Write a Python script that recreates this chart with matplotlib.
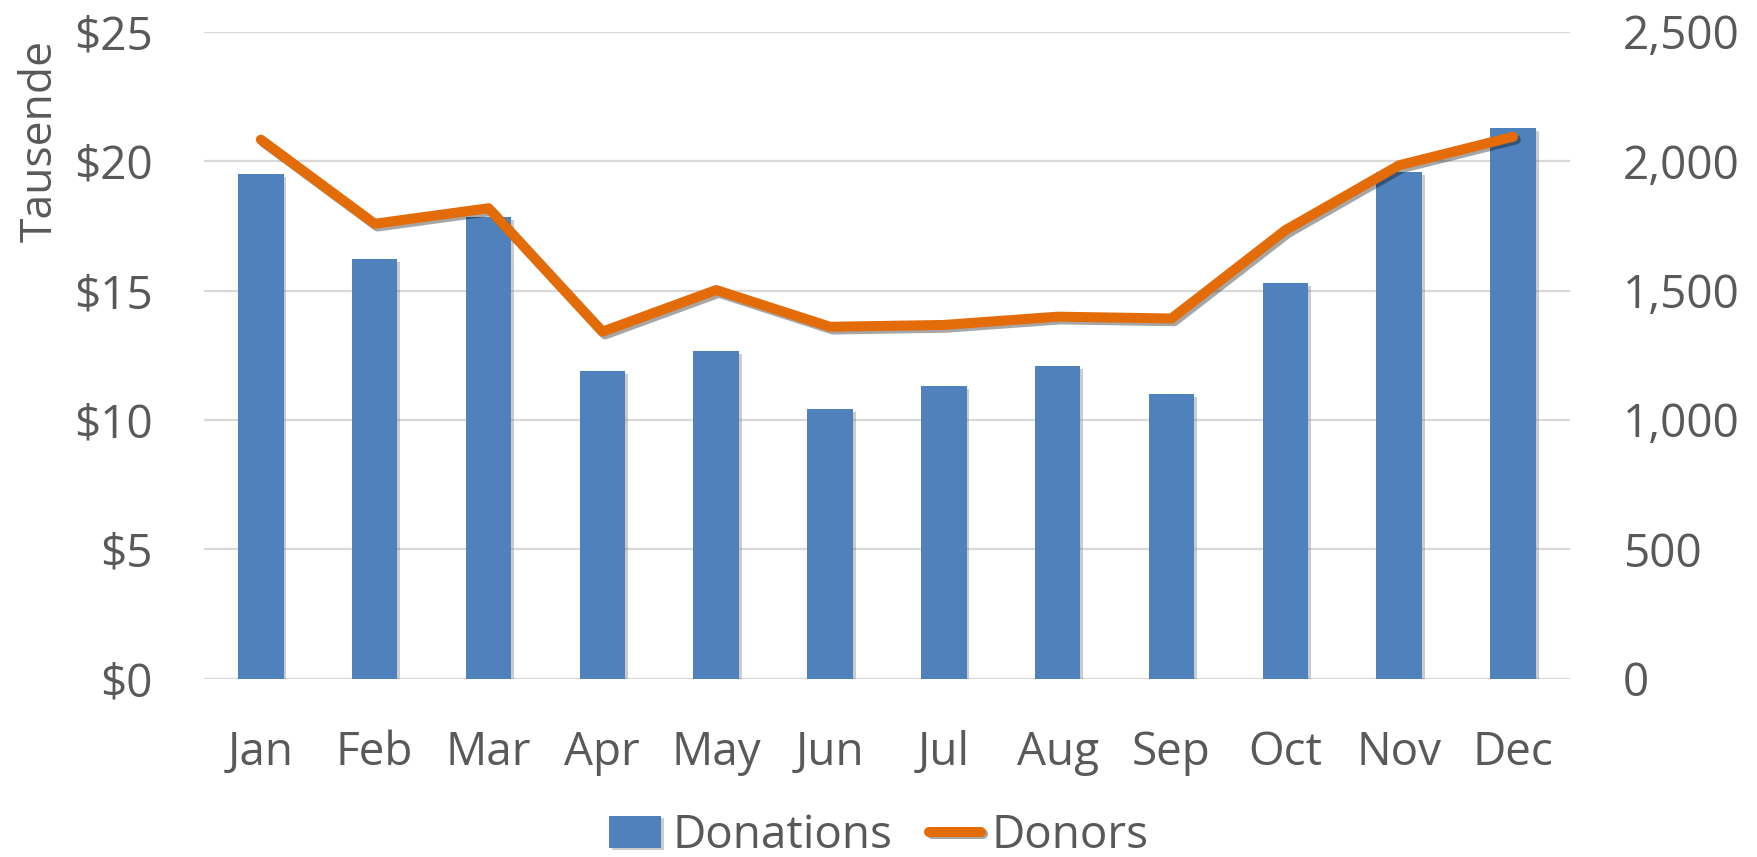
import numpy as np
import matplotlib.pyplot as plt
import matplotlib.patheffects as pe
from matplotlib.ticker import FuncFormatter

months = ['Jan', 'Feb', 'Mar', 'Apr', 'May', 'Jun', 'Jul', 'Aug', 'Sep', 'Oct', 'Nov', 'Dec']
donations = [19.5, 16.2, 17.85, 11.88, 12.66, 10.41, 11.3, 12.08, 11.01, 15.3, 19.57, 21.29]
donors = [2083, 1758, 1818, 1341, 1502, 1360, 1367, 1399, 1392, 1733, 1984, 2094]

plt.rcParams['font.family'] = ['Open Sans', 'DejaVu Sans']
text_color = '#595959'
bar_color = '#4F81BD'
line_color = '#E36C09'

fig = plt.figure(figsize=(17.58, 8.57), dpi=100)
ax = fig.add_axes([0.116, 0.208, 0.777, 0.755])
ax2 = ax.twinx()

x = np.arange(len(months))
bars = ax.bar(x, donations, width=0.40, color=bar_color, label='Donations', zorder=2)
for b in bars:
    b.set_path_effects([pe.SimplePatchShadow(offset=(2, -2), shadow_rgbFace='gray', alpha=0.4), pe.Normal()])

line, = ax2.plot(x, donors, color=line_color, linewidth=7.2, solid_capstyle='round',
                 solid_joinstyle='round', label='Donors', zorder=3)
line.set_path_effects([pe.SimpleLineShadow(offset=(2, -2), alpha=0.35), pe.Normal()])

ax.set_xlim(-0.5, 11.5)
ax.set_ylim(0, 25)
ax2.set_ylim(0, 2500)
ax.set_yticks([0, 5, 10, 15, 20, 25])
ax2.set_yticks([0, 500, 1000, 1500, 2000, 2500])
ax.yaxis.set_major_formatter(FuncFormatter(lambda v, p: '$%d' % v))
ax2.yaxis.set_major_formatter(FuncFormatter(lambda v, p: '{:,}'.format(int(v))))
ax.set_xticks(x)
ax.set_xticklabels(months)

ax.grid(axis='y', color='#D9D9D9', linewidth=1.6, zorder=0)
ax.set_axisbelow(True)
for a in (ax, ax2):
    for s in a.spines.values():
        s.set_visible(False)
ax.tick_params(axis='y', length=0, pad=37, labelsize=33, labelcolor=text_color)
ax.tick_params(axis='x', length=0, pad=37, labelsize=33, labelcolor=text_color)
ax2.tick_params(axis='y', length=0, pad=38, labelsize=33, labelcolor=text_color)

fig.text(0.023, 0.835, 'Tausende', rotation=90, ha='center', va='center',
         fontsize=32, color=text_color)

# legend below the plot, handles sized like the original
handles = [bars, line]
leg = fig.legend(handles, ['Donations', 'Donors'], loc='lower center', ncol=2,
                 bbox_to_anchor=(0.5, -0.05), frameon=False, fontsize=33,
                 handlelength=1.13, handletextpad=0.24, columnspacing=0.8)
for t in leg.get_texts():
    t.set_color(text_color)

fig.savefig('out.png', dpi=100)
